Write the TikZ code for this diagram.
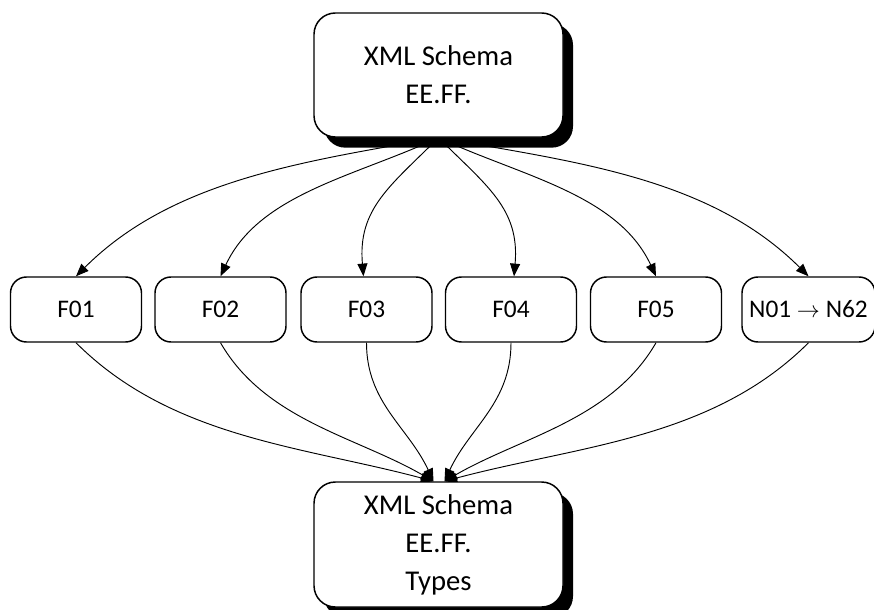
\documentclass[tikz,border=0pt]{standalone}
\usepackage{fontspec}
\setmainfont{Carlito}
\usetikzlibrary{arrows.meta,shadows,backgrounds,calc}
\tikzset{
  bigbox/.style={draw=black, line width=1.1pt, fill=white, rounded corners=16pt,
    minimum width=186.75pt, inner sep=0pt, align=center,
    font=\fontsize{21.5}{28.5}\selectfont,
    drop shadow={shadow xshift=7.5pt, shadow yshift=-8pt, fill=black, opacity=1}},
  smallbox/.style={draw=black, line width=1.1pt, fill=white, rounded corners=12pt,
    minimum width=98.25pt, minimum height=48.75pt, inner sep=0pt, align=center,
    font=\fontsize{19}{22}\selectfont},
  conn/.style={line width=0.7pt, -{Triangle[length=9.5pt,width=7.5pt]}}
}
\begin{document}
\begin{tikzpicture}[x=0.75pt,y=-0.75pt]
\useasboundingbox (0,0) rectangle (874,610);
\node[bigbox, minimum height=93pt] (top) at (438.5,75) {XML Schema\\EE.FF.};
\node[bigbox, minimum height=93.75pt] (bot) at (438.5,544.5) {XML Schema\\EE.FF.\\Types};
\node[smallbox] (f01) at (76,309.5) {F01};
\node[smallbox] (f02) at (220.5,309.5) {F02};
\node[smallbox] (f03) at (366.5,309.5) {F03};
\node[smallbox] (f04) at (511,309.5) {F04};
\node[smallbox] (f05) at (656,309.5) {F05};
\node[smallbox, minimum width=99.75pt] (n01) at (808.5,309.5) {N01 $\rightarrow$ N62};
\begin{pgfonlayer}{background}
\fill[white] (0,0) rectangle (874,610);
\draw[conn] (top.south) to[out=190, in=45, looseness=0.9] (f01.north);
\draw[conn] (top.south) to[out=205, in=65, looseness=0.9] (f02.north);
\draw[conn] (top.south) to[out=225, in=95, looseness=1.1] ($(f03.north)+(-3,0)$);
\draw[conn] (top.south) to[out=315, in=85, looseness=1.1] ($(f04.north)+(3,0)$);
\draw[conn] (top.south) to[out=335, in=115, looseness=0.9] (f05.north);
\draw[conn] (top.south) to[out=350, in=135, looseness=0.9] (n01.north);
\draw[conn] (f01.south) to[out=-45, in=165, looseness=0.9] ($(bot.north)+(-5,0)$);
\draw[conn] (f02.south) to[out=-60, in=150, looseness=0.9] ($(bot.north)+(-5,0)$);
\draw[conn] (f03.south) to[out=-90, in=115, looseness=1.0] ($(bot.north)+(-5,0)$);
\draw[conn] (f04.south) to[out=-90, in=65, looseness=1.0] ($(bot.north)+(6,0)$);
\draw[conn] (f05.south) to[out=-120, in=30, looseness=0.9] ($(bot.north)+(6,0)$);
\draw[conn] (n01.south) to[out=-135, in=15, looseness=0.9] ($(bot.north)+(6,0)$);
\end{pgfonlayer}
\end{tikzpicture}
\end{document}
